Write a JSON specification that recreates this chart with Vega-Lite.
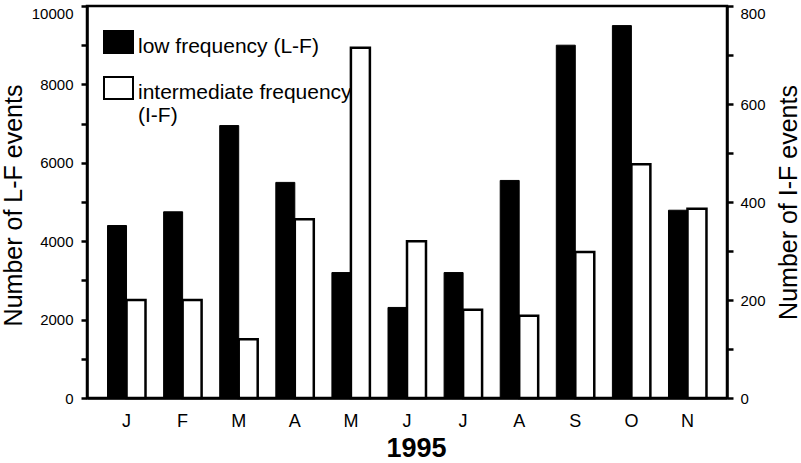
{
  "$schema": "https://vega.github.io/schema/vega-lite/v6.json",
  "width": 640,
  "height": 392,
  "autosize": {"type": "none"},
  "padding": {"left": 87, "top": 6, "right": 74, "bottom": 65},
  "background": "white",
  "config": {
    "font": "Liberation Sans",
    "view": {"stroke": "black", "strokeWidth": 2.5},
    "axis": {
      "domainColor": "black",
      "domainWidth": 2.5,
      "tickColor": "black",
      "tickWidth": 2.5,
      "labelColor": "black",
      "titleColor": "black",
      "grid": false,
      "titleFontWeight": "normal"
    }
  },
  "data": {
    "values": [
      {"month": "Jan", "series": "L-F", "events": 4400},
      {"month": "Feb", "series": "L-F", "events": 4750},
      {"month": "Mar", "series": "L-F", "events": 6950},
      {"month": "Apr", "series": "L-F", "events": 5500},
      {"month": "May", "series": "L-F", "events": 3200},
      {"month": "Jun", "series": "L-F", "events": 2310},
      {"month": "Jul", "series": "L-F", "events": 3200},
      {"month": "Aug", "series": "L-F", "events": 5550},
      {"month": "Sep", "series": "L-F", "events": 9000},
      {"month": "Oct", "series": "L-F", "events": 9500},
      {"month": "Nov", "series": "L-F", "events": 4790},
      {"month": "Jan", "series": "I-F", "events": 200},
      {"month": "Feb", "series": "I-F", "events": 200},
      {"month": "Mar", "series": "I-F", "events": 120},
      {"month": "Apr", "series": "I-F", "events": 365},
      {"month": "May", "series": "I-F", "events": 715},
      {"month": "Jun", "series": "I-F", "events": 320},
      {"month": "Jul", "series": "I-F", "events": 180},
      {"month": "Aug", "series": "I-F", "events": 168},
      {"month": "Sep", "series": "I-F", "events": 298},
      {"month": "Oct", "series": "I-F", "events": 477},
      {"month": "Nov", "series": "I-F", "events": 386}
    ]
  },
  "encoding": {
    "x": {
      "field": "month",
      "type": "nominal",
      "sort": ["Jan", "Feb", "Mar", "Apr", "May", "Jun", "Jul", "Aug", "Sep", "Oct", "Nov"],
      "scale": {"paddingInner": 0.323, "paddingOuter": 0.366},
      "axis": {
        "title": "1995",
        "titleFontSize": 27,
        "titleFontWeight": "bold",
        "titlePadding": 5,
        "titleX": 329,
        "labelAngle": 0,
        "labelFontSize": 18,
        "labelPadding": 14,
        "ticks": false,
        "tickSize": 0,
        "labelExpr": "substring(datum.label, 0, 1)"
      }
    },
    "xOffset": {
      "field": "series",
      "scale": {"domain": ["L-F", "I-F"], "paddingInner": 0, "paddingOuter": 0}
    },
    "fill": {
      "field": "series",
      "type": "nominal",
      "scale": {"domain": ["L-F", "I-F"], "range": ["black", "white"]},
      "legend": {
        "title": null,
        "orient": "none",
        "legendX": 16,
        "legendY": 14,
        "padding": 0,
        "symbolType": "M-1,-0.31H1V1.21H-1Z",
        "symbolSize": 841,
        "symbolStrokeColor": "black",
        "symbolStrokeWidth": 2,
        "symbolOpacity": 1,
        "labelFontSize": 21,
        "labelColor": "black",
        "labelBaseline": "top",
        "labelOffset": 4,
        "labelLimit": 400,
        "rowPadding": 8,
        "labelExpr": "datum.value == 'L-F' ? 'low frequency (L-F)' : ['intermediate frequency', '(I-F)']"
      }
    }
  },
  "layer": [
    {
      "transform": [{"filter": "datum.series == 'L-F'"}],
      "mark": {"type": "bar", "stroke": "black", "strokeWidth": 1},
      "encoding": {
        "y": {
          "field": "events",
          "type": "quantitative",
          "scale": {"domain": [0, 10000], "nice": false},
          "axis": {
            "title": "Number of L-F events",
            "titleFontSize": 25,
            "titleX": -61,
            "titleY": 199,
            "values": [0, 1000, 2000, 3000, 4000, 5000, 6000, 7000, 8000, 9000, 10000],
            "format": "d",
            "labelExpr": "datum.value % 2000 == 0 ? datum.label : ''",
            "labelBaseline": {"condition": {"test": "datum.value == 10000", "value": "top"}, "value": "middle"},
            "labelFontSize": 15,
            "labelPadding": 8,
            "tickSize": 6
          }
        }
      }
    },
    {
      "transform": [{"filter": "datum.series == 'I-F'"}],
      "mark": {"type": "bar", "stroke": "black", "strokeWidth": 2.5},
      "encoding": {
        "y": {
          "field": "events",
          "type": "quantitative",
          "scale": {"domain": [0, 800], "nice": false},
          "axis": {
            "orient": "right",
            "title": "Number of I-F events",
            "titleFontSize": 25,
            "titleAngle": 270,
            "titlePadding": 36,
            "values": [0, 100, 200, 300, 400, 500, 600, 700, 800],
            "format": "d",
            "labelExpr": "datum.value % 200 == 0 ? datum.label : ''",
            "labelBaseline": {"condition": {"test": "datum.value == 800", "value": "top"}, "value": "middle"},
            "labelFontSize": 15,
            "labelPadding": 7,
            "tickSize": 6
          }
        }
      }
    }
  ],
  "resolve": {"scale": {"y": "independent"}}
}
